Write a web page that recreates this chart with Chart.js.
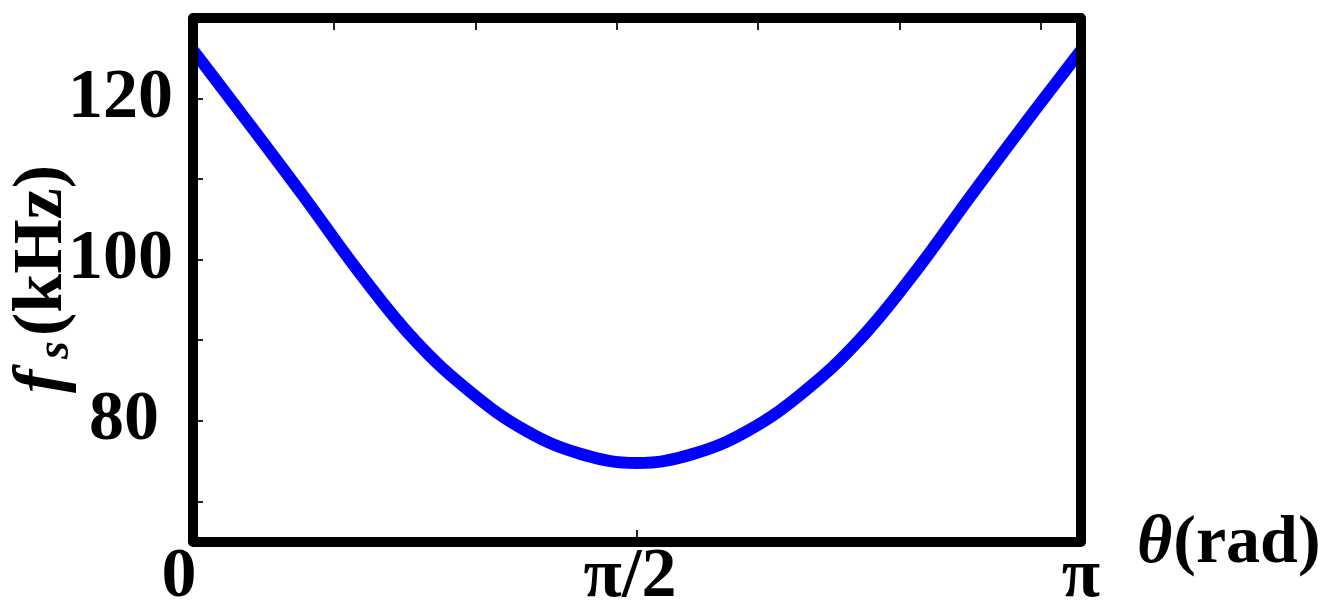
<!DOCTYPE html>
<html><head><meta charset="utf-8">
<script src="https://cdn.jsdelivr.net/npm/chart.js@4.4.0/dist/chart.umd.min.js"></script>
<style>html,body{margin:0;padding:0;background:#fff;}#wrap{width:1328px;height:615px;position:relative;}</style>
</head><body><div id="wrap"><canvas id="c"></canvas></div>
<script>
// theta (rad) sample positions and read-off f_s values (kHz)
const thetaValues = [0, 0.196, 0.393, 0.589, 0.785, 0.982, 1.178, 1.374, 1.571, 1.767, 1.963, 2.160, 2.356, 2.553, 2.749, 2.945, 3.142];
const fsValues    = [126.0, 117.0, 107.8, 98.4, 90.0, 83.6, 78.8, 75.9, 74.8, 75.9, 78.8, 83.6, 90.0, 98.4, 107.8, 117.0, 126.0];

const xTickValues = [0, 1.5708, 3.1416];
const xTickLabels = ['0\u2009\u2009', 'π/2\u2009', 'π'];
const yTickValues = [70, 80, 90, 100, 110, 120, 130];
const yTickLabels = {80: '80\u2009', 100: '100', 120: '120'};
const topTickValues = [0.5, 1, 1.5, 2, 2.5, 3];
const xMin = 0, xMax = 3.1416, yMin = 65, yMax = 130;

const SERIF = '"Liberation Serif", "Times New Roman", serif';

const framePlugin = {
  id: 'frame',
  afterDatasetsDraw(chart) {
    const {ctx, chartArea: {left, top, right, bottom}, scales: {x, y}} = chart;
    ctx.save();
    ctx.strokeStyle = '#262626';
    ctx.lineWidth = 2;
    ctx.beginPath();
    yTickValues.forEach(v => {
      const py = Math.round(y.getPixelForValue(v));
      ctx.moveTo(left, py); ctx.lineTo(left + 10, py);
    });
    topTickValues.forEach(v => {
      const px = Math.round(x.getPixelForValue(v));
      ctx.moveTo(px, top); ctx.lineTo(px, top + 12);
    });
    xTickValues.forEach(v => {
      const px = Math.round(x.getPixelForValue(v));
      ctx.moveTo(px, bottom); ctx.lineTo(px, bottom - 12);
    });
    ctx.stroke();
    ctx.strokeStyle = '#000';
    ctx.lineWidth = 10;
    ctx.lineJoin = 'round';
    ctx.strokeRect(left, top, right - left, bottom - top);
    ctx.restore();
  },
  afterDraw(chart) {
    const {ctx} = chart;
    ctx.save();
    ctx.fillStyle = '#000';
    ctx.textBaseline = 'alphabetic';
    ctx.textAlign = 'left';
    // x title: θ(rad)
    let xx = 1137;
    ctx.font = 'italic bold 68px ' + SERIF;
    ctx.fillText('θ', xx, 562);
    xx += ctx.measureText('θ').width + 1;
    ctx.font = 'bold 68px ' + SERIF;
    ctx.fillText('(rad)', xx, 562);
    // y title: f_s(kHz), rotated
    ctx.translate(61, 393);
    ctx.rotate(-Math.PI / 2);
    ctx.font = 'italic bold 70px ' + SERIF;
    ctx.fillText('f', 0, 0);
    ctx.font = 'italic bold 46px ' + SERIF;
    ctx.fillText('s', 34, 7);
    ctx.font = 'bold 70px ' + SERIF;
    ctx.fillText('(kHz)', 57, 0);
    ctx.restore();
  }
};

new Chart(document.getElementById('c'), {
  type: 'line',
  data: {
    datasets: [{
      data: thetaValues.map((t, i) => ({x: t, y: fsValues[i]})),
      borderColor: '#0000ff',
      borderWidth: 12,
      pointRadius: 0,
      tension: 0.4,
      fill: false
    }]
  },
  options: {
    responsive: true,
    maintainAspectRatio: false,
    animation: false,
    events: [],
    layout: {padding: {left: 0, top: 18, right: 247, bottom: 0}},
    plugins: {legend: {display: false}, tooltip: {enabled: false}, title: {display: false}},
    scales: {
      x: {
        type: 'linear', min: xMin, max: xMax,
        grid: {display: false, drawTicks: false}, border: {display: false},
        afterBuildTicks: s => { s.ticks = xTickValues.map(v => ({value: v})); },
        afterFit: s => { s.height = 73; s.paddingLeft = 0; s.paddingRight = 0; },
        ticks: {
          autoSkip: false, maxRotation: 0, padding: 1, color: '#000',
          font: {family: SERIF, size: 70, weight: 'bold', lineHeight: 1},
          callback: (v, i) => xTickLabels[i]
        }
      },
      y: {
        type: 'linear', min: yMin, max: yMax,
        grid: {display: false, drawTicks: false}, border: {display: false},
        afterBuildTicks: s => { s.ticks = yTickValues.map(v => ({value: v})); },
        afterFit: s => { s.width = 193; s.paddingTop = 0; s.paddingBottom = 0; },
        ticks: {
          autoSkip: false, padding: 20, color: '#000',
          font: {family: SERIF, size: 70, weight: 'bold', lineHeight: 1},
          callback: v => yTickLabels[v] || ''
        }
      }
    }
  },
  plugins: [framePlugin]
});
</script>
</body></html>
